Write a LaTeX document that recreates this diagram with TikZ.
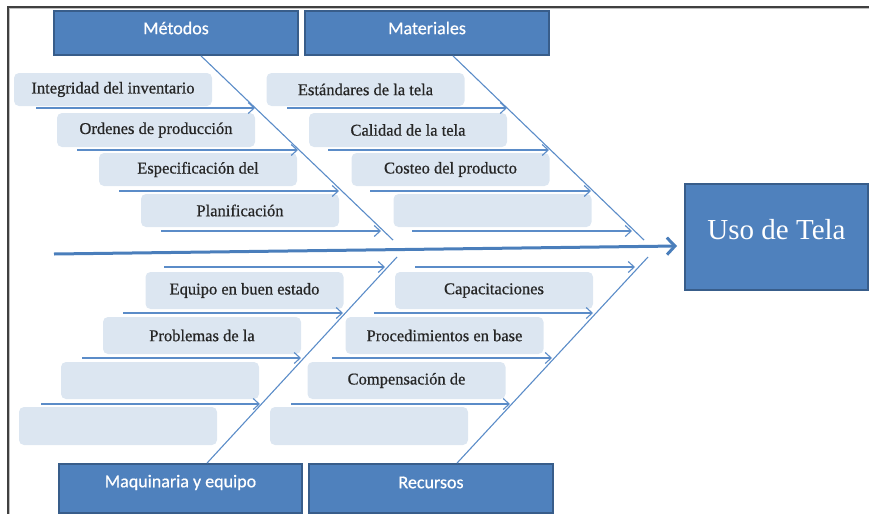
\documentclass[tikz,border=0pt]{standalone}
\usepackage{fontspec}
\setmainfont{Liberation Serif}
\newfontfamily\hdrfont{Carlito}[FakeBold=0.6]
\newfontfamily\subfont{Liberation Serif}[FakeBold=0.7]
\usetikzlibrary{arrows.meta,calc}
\definecolor{hdrfill}{HTML}{4F81BD}
\definecolor{hdrline}{HTML}{385D8A}
\definecolor{subfill}{HTML}{DCE6F1}
\definecolor{boneblue}{HTML}{5B8CC8}
\definecolor{spineblue}{HTML}{4A7EBB}
\tikzset{
  hdr/.style={draw=hdrline, line width=1.8pt, fill=hdrfill, inner sep=0pt},
  hdrtext/.style={text=white, font=\hdrfont\fontsize{18}{21}\selectfont},
  sub/.style={fill=subfill, rounded corners=5pt, inner sep=0pt, minimum width=198pt,
    text=black!85, font=\subfont\fontsize{16.5}{19}\selectfont},
  bone/.style={draw=boneblue, line width=1.1pt},
  twig/.style={draw=boneblue, line width=1.1pt, -{Straight Barb[length=6pt,width=11pt,line width=1.1pt]}},
  spine/.style={draw=spineblue, line width=3pt, -{Straight Barb[length=8pt,width=17pt,line width=3pt]}}
}
\begin{document}
\begin{tikzpicture}[x=1pt,y=-1pt]
\useasboundingbox (0,0) rectangle (869,514);
% frame
\draw[black!75, line width=1.6pt] (869,7) -- (8,7) -- (8,514);
\draw[black!25, line width=0.8pt] (869,8.8) -- (9.8,8.8) -- (9.8,514);

% header boxes
\node[hdr, minimum width=244pt, minimum height=44pt,
  label={[hdrtext, yshift=5pt]center:Métodos}] (met) at (176,33) {};
\node[hdr, minimum width=244pt, minimum height=44pt,
  label={[hdrtext, yshift=5pt]center:Materiales}] (mat) at (427,33) {};
\node[hdr, minimum width=243pt, minimum height=49pt,
  label={[hdrtext, yshift=6pt]center:Maquinaria y equipo}] (maq) at (180.5,488.5) {};
\node[hdr, minimum width=244pt, minimum height=49pt,
  label={[hdrtext, yshift=6pt]center:Recursos}] (rec) at (431,488.5) {};
\node[hdr, minimum width=183pt, minimum height=106pt,
  label={[text=white, font=\fontsize{29}{32}\selectfont, yshift=7pt]center:Uso de Tela}] (uso) at (776.5,237) {};

% spine
\coordinate (sp0) at (54,254);
\coordinate (spE) at (677,246);
\draw[spine] (sp0) -- (spE);

% bone end points
\coordinate (metE) at (393,240);
\coordinate (matE) at (644,240);
\coordinate (maqE) at (397,257);
\coordinate (recE) at (648,257);
\draw[bone] (met.south -| 201,0) -- (metE);
\draw[bone] (mat.south -| 453,0) -- (matE);
\draw[bone] (maq.north -| 207,0) -- (maqE);
\draw[bone] (rec.north -| 457,0) -- (recE);

% Métodos sub boxes
\node[sub, minimum height=33pt] (m1) at (113,89.5) {Integridad del inventario};
\node[sub, minimum height=34pt] (m2) at (156,130) {Ordenes de producción};
\node[sub, minimum height=33pt] (m3) at (198,169.5) {Especificación del};
\node[sub, minimum height=33pt] (m4) at (240,210.5) {Planificación};
% Materiales sub boxes
\node[sub, minimum height=33pt] (a1) at (365.5,89.5) {Estándares de la tela};
\node[sub, minimum height=34pt] (a2) at (408,130) {Calidad de la tela};
\node[sub, minimum height=33pt] (a3) at (450.5,169.5) {Costeo del producto};
\node[sub, minimum height=33pt] (a4) at (492.5,210.5) {};
% Maquinaria sub boxes
\node[sub, minimum height=37pt] (q1) at (244.5,290.5) {Equipo en buen estado};
\node[sub, minimum height=37pt] (q2) at (202,335.5) {Problemas de la};
\node[sub, minimum height=37pt] (q3) at (160,380.5) {};
\node[sub, minimum height=38pt] (q4) at (118,426) {};
% Recursos sub boxes
\node[sub, minimum height=37pt] (r1) at (494,290.5) {Capacitaciones};
\node[sub, minimum height=37pt] (r2) at (444.5,335.5) {Procedimientos en base};
\node[sub, minimum height=37pt] (r3) at (406.5,380.5) {Compensación de};
\node[sub, minimum height=38pt] (r4) at (369,426) {};

% twigs: Métodos
\coordinate (m1s) at (36,108);  \coordinate (m1e) at (255,108);
\coordinate (m2s) at (77,150);  \coordinate (m2e) at (298,150);
\coordinate (m3s) at (119,191); \coordinate (m3e) at (339,191);
\coordinate (m4s) at (161,231); \coordinate (m4e) at (381,231);
\draw[twig] (m1s) -- (m1e);
\draw[twig] (m2s) -- (m2e);
\draw[twig] (m3s) -- (m3e);
\draw[twig] (m4s) -- (m4e);
% twigs: Materiales
\coordinate (a1s) at (287,108); \coordinate (a1e) at (507,108);
\coordinate (a2s) at (328,150); \coordinate (a2e) at (549,150);
\coordinate (a3s) at (370,191); \coordinate (a3e) at (591,191);
\coordinate (a4s) at (412,231); \coordinate (a4e) at (632,231);
\draw[twig] (a1s) -- (a1e);
\draw[twig] (a2s) -- (a2e);
\draw[twig] (a3s) -- (a3e);
\draw[twig] (a4s) -- (a4e);
% twigs: Maquinaria
\coordinate (q1s) at (164,267); \coordinate (q1e) at (385,267);
\coordinate (q2s) at (123,313); \coordinate (q2e) at (343,313);
\coordinate (q3s) at (82,358);  \coordinate (q3e) at (301,358);
\coordinate (q4s) at (41,404);  \coordinate (q4e) at (260,404);
\draw[twig] (q1s) -- (q1e);
\draw[twig] (q2s) -- (q2e);
\draw[twig] (q3s) -- (q3e);
\draw[twig] (q4s) -- (q4e);
% twigs: Recursos
\coordinate (r1s) at (415,267); \coordinate (r1e) at (635,267);
\coordinate (r2s) at (374,313); \coordinate (r2e) at (593,313);
\coordinate (r3s) at (332,358); \coordinate (r3e) at (552,358);
\coordinate (r4s) at (291,404); \coordinate (r4e) at (510,404);
\draw[twig] (r1s) -- (r1e);
\draw[twig] (r2s) -- (r2e);
\draw[twig] (r3s) -- (r3e);
\draw[twig] (r4s) -- (r4e);
\end{tikzpicture}
\end{document}
